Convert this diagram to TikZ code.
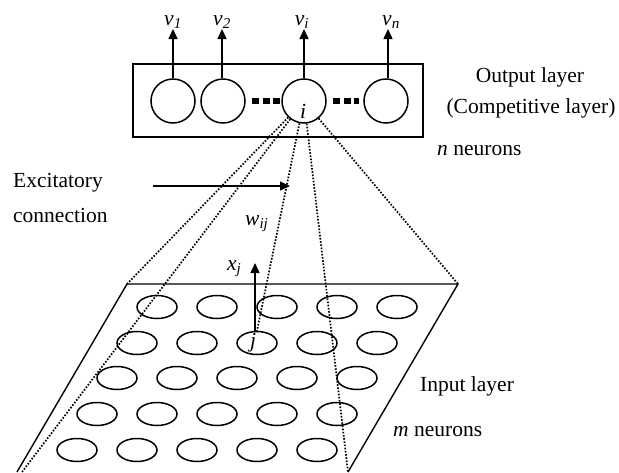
\documentclass[tikz,border=0pt]{standalone}
\usepackage{fontspec}
\setmainfont{Liberation Serif}
\usetikzlibrary{arrows.meta,shapes.geometric}
\begin{document}
\begin{tikzpicture}[x=1pt,y=-1pt,
  every node/.style={font=\fontsize{21.5}{25}\selectfont, inner sep=0pt},
  neuron/.style={draw, circle, minimum size=44pt, line width=1.5pt},
  inneuron/.style={draw, ellipse, minimum width=40pt, minimum height=23pt, line width=1.5pt},
  layerbox/.style={draw, rectangle, minimum width=290pt, minimum height=73pt, line width=1.4pt},
  arr/.style={line width=1.4pt, -{Triangle[length=10pt,width=9pt]}},
  conn/.style={line width=1.7pt, dash pattern=on 1.6pt off 1.6pt},
  sqdash/.style={line width=5.5pt, dash pattern=on 7.3pt off 3.5pt},
  edge/.style={line width=1.4pt},
  lbl/.style={anchor=base west},
  clbl/.style={anchor=base}
]
\useasboundingbox (0,0) rectangle (619,472);
\clip (0,0) rectangle (619,472);

% output layer
\node[layerbox] (outbox) at (278,100.5) {};
\node[neuron] (c1) at (173,101) {};
\node[neuron] (c2) at (223,101) {};
\node[neuron] (ci) at (304,101) {};
\node[neuron] (cn) at (386,101) {};
\node[clbl] (ilab) at (303,118) {\textit{i}};
\draw[sqdash, shorten <=6pt, shorten >=1pt] (c2) -- (ci);
\draw[sqdash, shorten <=6pt, shorten >=4pt] (ci) -- (cn);

\coordinate (t1) at (173,29);
\coordinate (t2) at (222,29);
\coordinate (ti) at (304,29);
\coordinate (tn) at (388,29);
\draw[arr] (c1.north) -- (t1);
\draw[arr] (c2.north -| t2) -- (t2);
\draw[arr] (ci.north) -- (ti);
\draw[arr] (cn.north -| tn) -- (tn);
\node[clbl] (v1) at (173,25) {\textit{v}\textsubscript{\textit{1}}};
\node[clbl] (v2) at (222,25) {\textit{v}\textsubscript{\textit{2}}};
\node[clbl] (vi) at (302,25) {\textit{v}\textsubscript{\textit{i}}};
\node[clbl] (vn) at (391,25) {\textit{v}\textsubscript{\textit{n}}};

\node[clbl] (outlab) at (530,82) {Output layer};
\node[clbl] (complab) at (531,113) {(Competitive layer)};
\node[lbl] (nneur) at (437,155) {\textit{n} neurons};

% input layer plane
\coordinate (TL) at (127,284);
\coordinate (TR) at (458,284);
\coordinate (BL) at (17,472);
\coordinate (BR) at (348,472);
\draw[edge] (BL) -- (TL) -- (TR) -- (BR);

\foreach \r/\y/\x in {1/307/157, 2/343/137, 3/378/117, 4/414/97, 5/450/77}{
  \foreach \c in {1,...,5}{
    \node[inneuron] (e\r\c) at ({\x+60*(\c-1)},\y) {};
  }
}
\node[clbl] (jlab) at (253,347) {\textit{j}};

% connections
\coordinate (bdot) at (22,472);
\draw[conn] (ci) -- (TL);
\draw[conn] (ci) -- (bdot);
\draw[conn] (ci) -- (e23.north);
\draw[conn] (ci) -- (BR);
\draw[conn] (ci) -- (TR);

\coordinate (xjtip) at (255,263);
\draw[arr] (e23.north -| xjtip) -- (xjtip);
\node[lbl] (xj) at (227,270) {\textit{x}\textsubscript{\textit{j}}};
\node[lbl] (wij) at (245,225) {\textit{w}\textsubscript{\textit{ij}}};

\node[lbl] (exc1) at (13,187) {Excitatory};
\node[lbl] (exc2) at (13,222) {connection};
\coordinate (exs) at (153,186);
\coordinate (ext) at (290,186);
\draw[arr] (exs) -- (ext);

\node[lbl] (inlab) at (420,391) {Input layer};
\node[lbl] (mneur) at (393,436) {\textit{m} neurons};
\end{tikzpicture}
\end{document}
